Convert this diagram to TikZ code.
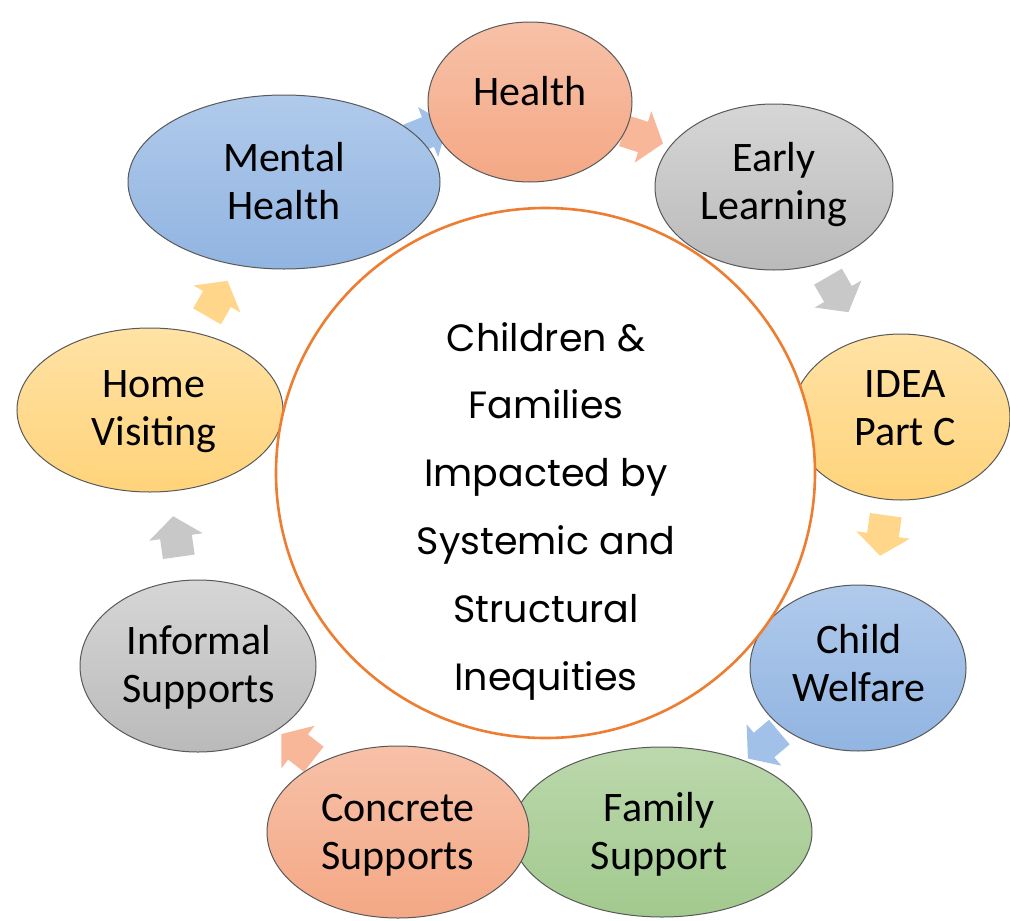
\documentclass[tikz,border=0pt]{standalone}
\usepackage{fontspec}
\setmainfont{Carlito}
\newfontfamily\popfont{Poppins}
\usetikzlibrary{shapes.geometric}

\definecolor{salT}{RGB}{247,193,168}
\definecolor{salB}{RGB}{244,168,133}
\definecolor{gryT}{RGB}{214,214,214}
\definecolor{gryB}{RGB}{186,186,186}
\definecolor{ylwT}{RGB}{255,226,165}
\definecolor{ylwB}{RGB}{255,211,122}
\definecolor{bluT}{RGB}{176,202,235}
\definecolor{bluB}{RGB}{145,180,225}
\definecolor{grnT}{RGB}{187,216,172}
\definecolor{grnB}{RGB}{162,201,142}
\definecolor{salA}{RGB}{247,183,152}
\definecolor{gryA}{RGB}{200,200,200}
\definecolor{ylwA}{RGB}{255,214,138}
\definecolor{bluA}{RGB}{162,193,232}
\definecolor{edge}{RGB}{89,89,89}
\definecolor{ring}{RGB}{237,125,49}

\begin{document}
\begin{tikzpicture}[x=1pt,y=-1pt,
  bubble/.style={ellipse, draw=edge, line width=1pt, inner sep=0pt},
  sal/.style={bubble, top color=salT, bottom color=salB},
  gry/.style={bubble, top color=gryT, bottom color=gryB},
  ylw/.style={bubble, top color=ylwT, bottom color=ylwB},
  blu/.style={bubble, top color=bluT, bottom color=bluB},
  grn/.style={bubble, top color=grnT, bottom color=grnB},
  lbl/.style={align=center, inner sep=0pt, font=\fontsize{42}{48}\selectfont},
  hub/.style={align=center, inner sep=0pt, font=\popfont\fontsize{38}{67.8}\selectfont},
  cyc/.pic={\fill[pic actions] (-20,-16) -- (0,-16) -- (0,-27) -- (21,0) -- (0,27) -- (0,16) -- (-20,16) -- cycle;}
]
\useasboundingbox (0,0) rectangle (1010,921);
\fill[white] (0,0) rectangle (1010,921);

% cycle arrows (behind the bubbles)
\pic[fill=bluA, rotate=22]   (a1) at (428,132) {cyc};
\pic[fill=salA, rotate=-18]  (a2) at (643,137) {cyc};
\pic[fill=gryA, rotate=-60]  (a3) at (838,294) {cyc};
\pic[fill=ylwA, rotate=-98]  (a4) at (883,535) {cyc};
\pic[fill=bluA, rotate=-140] (a5) at (764,745) {cyc};
\pic[fill=salA, rotate=142]  (a6) at (298,747) {cyc};
\pic[fill=gryA, rotate=98]   (a7) at (176,537) {cyc};
\pic[fill=ylwA, rotate=60]   (a8) at (217,299) {cyc};

% bubbles behind the ring
\node[sal, minimum width=204, minimum height=160] (health) at (530,102) {};
\node[gry, minimum width=238, minimum height=166] (early) at (774,187) {};
\node[ylw, minimum width=218, minimum height=166] (idea) at (901,417) {};
\node[blu, minimum width=216, minimum height=166] (welfare) at (858,668) {};
\node[gry, minimum width=236, minimum height=172] (informal) at (198,666) {};
\node[ylw, minimum width=266, minimum height=164] (home) at (150,410) {};
\node[blu, minimum width=312, minimum height=174] (mental) at (284,182) {};

% central ring
\node[ellipse, draw=ring, fill=white, line width=2.6pt, inner sep=0pt,
      minimum width=539, minimum height=530] (ring) at (545.5,473) {};

% bubbles in front of the ring
\node[grn, minimum width=300, minimum height=170] (family) at (662,832) {};
\node[sal, minimum width=262, minimum height=172] (concrete) at (398,832) {};

% labels
\node[lbl] (tHealth) at (530,96) {\strut Health};
\node[lbl] (tEarly) at (774,186) {\strut Early\\\strut Learning};
\node[lbl] (tIdea) at (905,412) {\strut IDEA\\\strut Part C};
\node[lbl] (tWelfare) at (859,668) {\strut Child\\\strut Welfare};
\node[lbl] (tFamily) at (659,836) {\strut Family\\\strut Support};
\node[lbl] (tConcrete) at (398,836) {\strut Concrete\\\strut Supports};
\node[lbl] (tInformal) at (199,669) {\strut Informal\\\strut Supports};
\node[lbl] (tHome) at (154,412) {\strut Home\\\strut Visiting};
\node[lbl] (tMental) at (284,186) {\strut Mental\\\strut Health};

\node[hub] (tHub) at (546,507) {\strut Children \&\\\strut Families\\\strut Impacted by\\\strut Systemic and\\\strut Structural\\\strut Inequities};
\end{tikzpicture}
\end{document}
